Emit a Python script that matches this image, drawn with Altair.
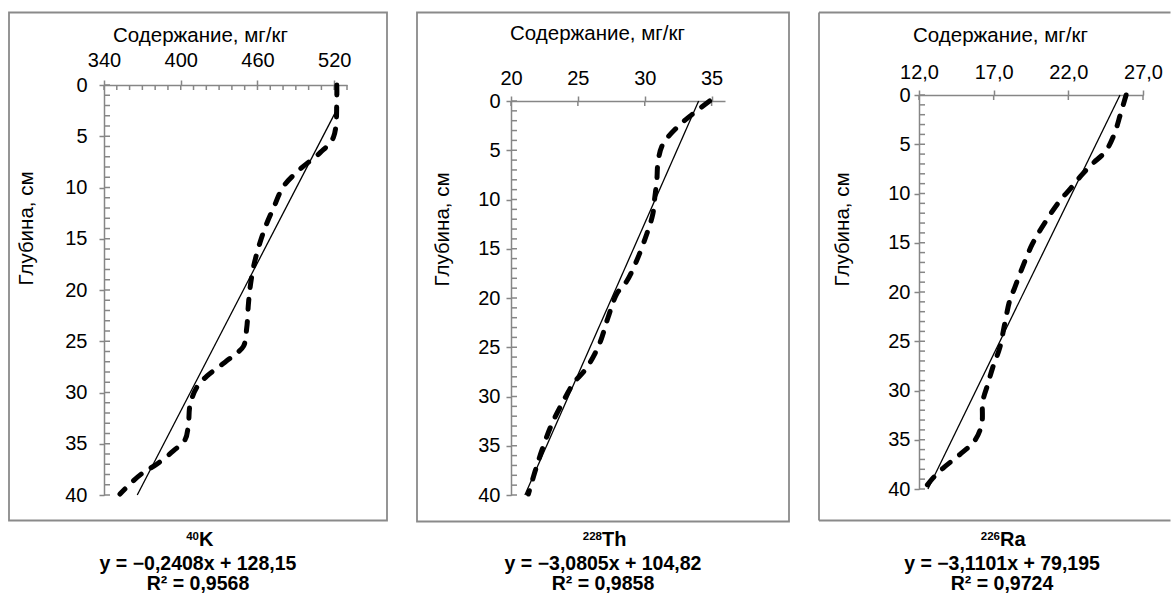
import altair as alt
import pandas as pd

FONT = "Liberation Sans"
GREY = "#868686"
FRAME = "#8a8a8a"

# ---------- data ----------
# 40K
k_depth = [0, 1.2, 5.1, 6.6, 8.2, 9.9, 12.0, 13.9, 15.9, 17.8, 19.8, 21.4, 23.7, 25.5, 26.4,
           27.4, 28.4, 29.5, 31.2, 33.1, 34.6, 35.7, 37.0, 37.8, 38.6, 39.9]
k_value = [522, 522, 519.4, 509, 493.4, 480.3, 472.5, 466, 460.7, 456.8, 454.2, 452.9, 451.6, 449, 441.2,
           430.8, 420.4, 412.5, 407.3, 406, 403.4, 394.2, 381.2, 370.8, 363, 352.5]
k_trend_value = [522, 366]
k_trend_depth = [2.4, 40]
k_xticks = [340, 400, 460, 520]
k_xminor = [340, 350, 360, 370, 380, 390, 400, 410, 420, 430, 440, 450, 460, 470, 480, 490, 500, 510, 520, 530]

# 228Th
th_depth = [0, 1.3, 2.7, 4.4, 6.1, 8.1, 9.8, 11.5, 13.5, 16.2, 18.3, 19.6, 22, 24.7, 27.1,
            28.7, 30.5, 32.8, 35.5, 37.6, 39.9]
th_value = [34.85, 33.6, 32.4, 31.35, 31.0, 30.9, 30.75, 30.6, 30.15, 29.4, 28.65, 27.9, 27.25, 26.6, 25.65,
            24.65, 23.9, 23.05, 22.3, 21.8, 21.3]
th_trend_value = [34.03, 21.04]
th_trend_depth = [0, 40]
th_xticks = [20, 25, 30, 35]

# 226Ra
ra_depth = [0, 1.9, 4, 5.7, 7, 8.1, 9.4, 10.8, 12.8, 15.1, 17.6, 19.6, 20.9, 23.3, 25.7, 27.7,
            29.4, 31.1, 33.4, 35.1, 36.5, 37.9, 38.9, 39.9]
ra_value = [25.87, 25.5, 25.07, 24.5, 23.6, 22.9, 22.2, 21.4, 20.5, 19.6, 18.9, 18.4, 18.07, 17.73, 17.4, 16.93,
            16.6, 16.27, 16.2, 15.73, 14.73, 13.6, 12.93, 12.4]
ra_trend_value = [25.46, 12.6]
ra_trend_depth = [0, 40]
ra_xticks = [12, 17, 22, 27]

depth_ticks = [0, 5, 10, 15, 20, 25, 30, 35, 40]
depth_minor = list(range(0, 41))

X_TITLE = "Содержание, мг/кг"
Y_TITLE = "Глубина, см"


def panel(vals, deps, tv, td, xdom, xw, y0, yh, xticks, xminor, label_expr,
          xlabpad, xtitle_x, xtitle_y, ylabpad, ytitle_x, ytitle_y,
          frame, open_right, cw, sup, elem, elem_x, eq, r2, eq_x):
    xs = alt.Scale(domain=xdom, range=[0, xw], nice=False, zero=False)
    ys = alt.Scale(domain=[0, 40], range=[y0, y0 + yh], nice=False, zero=False)
    common = dict(labelFont=FONT, labelFontSize=20, labelColor="black",
                  titleFont=FONT, titleFontSize=20.5, titleColor="black", titleFontWeight="normal",
                  tickSize=5, tickColor=GREY, tickWidth=1.5,
                  domainColor=GREY, domainWidth=1.5, grid=False,
                  labelFlush=False, labelOverlap=False)
    xax = alt.Axis(orient="top", values=xticks, labelExpr=label_expr,
                   labelBaseline="alphabetic", labelPadding=xlabpad,
                   title=X_TITLE, titleX=xtitle_x, titleY=xtitle_y, titleAlign="center",
                   titleBaseline="alphabetic", titleAngle=0, offset=-y0, **common)
    yax = alt.Axis(orient="left", values=depth_ticks, format="d", labelPadding=ylabpad,
                   labelBaseline="middle",
                   title=Y_TITLE, titleX=ytitle_x, titleY=ytitle_y, titleAngle=270,
                   titleAlign="center", titleBaseline="middle", **common)
    X = alt.X("v:Q", scale=xs, axis=xax)
    Y = alt.Y("d:Q", scale=ys, axis=yax)

    one = pd.DataFrame({"a": [0]})
    fx0, fx1, fy0, fy1 = frame
    if open_right:
        fstyle = dict(color=FRAME, strokeWidth=1.8)
        fr = alt.layer(
            alt.Chart(one).mark_rule(**fstyle).encode(
                x=alt.value(fx0), x2=alt.value(fx1), y=alt.value(fy0)),
            alt.Chart(one).mark_rule(**fstyle).encode(
                x=alt.value(fx0), x2=alt.value(fx1), y=alt.value(fy1)),
            alt.Chart(one).mark_rule(**fstyle).encode(
                x=alt.value(fx0), y=alt.value(fy0), y2=alt.value(fy1)),
        )
    else:
        fr = alt.Chart(one).mark_rect(fillOpacity=0, stroke=FRAME, strokeWidth=1.8).encode(
            x=alt.value(fx0), x2=alt.value(fx1), y=alt.value(fy0), y2=alt.value(fy1))
    ymin = alt.Chart(pd.DataFrame({"d": depth_minor})).mark_rule(color=GREY, strokeWidth=1.5).encode(
        y=Y, x=alt.value(0), x2=alt.value(6))
    xmin = alt.Chart(pd.DataFrame({"v": xminor})).mark_rule(color=GREY, strokeWidth=1.5).encode(
        x=X, y=alt.value(y0), y2=alt.value(y0 + 5))
    trend = alt.Chart(pd.DataFrame({"v": tv, "d": td})).mark_line(
        color="black", strokeWidth=1.3).encode(x=X, y=Y, order=alt.Order("d:Q"))
    curve = alt.Chart(pd.DataFrame({"v": vals, "d": deps})).mark_line(
        color="black", strokeWidth=5, strokeDash=[10, 12], strokeCap="round",
        interpolate="catmull-rom").encode(x=X, y=Y, order=alt.Order("d:Q"))

    tsup = alt.Chart(one).mark_text(font=FONT, fontSize=11.5, fontWeight="bold", align="right",
                                    baseline="alphabetic", color="black").encode(
        x=alt.value(elem_x), y=alt.value(455), text=alt.value(sup))
    telem = alt.Chart(one).mark_text(font=FONT, fontSize=20, fontWeight="bold", align="left",
                                     baseline="alphabetic", color="black").encode(
        x=alt.value(elem_x), y=alt.value(461), text=alt.value(elem))
    teq = alt.Chart(one).mark_text(font=FONT, fontSize=19.5, fontWeight="bold", align="center",
                                   baseline="alphabetic", color="black").encode(
        x=alt.value(eq_x), y=alt.value(485), text=alt.value(eq))
    tr2 = alt.Chart(one).mark_text(font=FONT, fontSize=19.5, fontWeight="bold", align="center",
                                   baseline="alphabetic", color="black").encode(
        x=alt.value(eq_x), y=alt.value(505), text=alt.value(r2))

    return alt.layer(fr, ymin, xmin, trend, curve, tsup, telem, teq, tr2).properties(
        width=cw, height=410)


p1 = panel(k_value, k_depth, k_trend_value, k_trend_depth, [340, 530], 243, 0, 410,
           k_xticks, k_xminor, "format(datum.value, 'd')",
           14, 96, -44, 12, -78, 143,
           (-95, 283, -72.5, 435.5), False, 407, "40", "K", 95,
           "y = −0,2408x + 128,15", "R² = 0,9568", 94)
p2 = panel(th_value, th_depth, th_trend_value, th_trend_depth, [20, 36], 214, 16, 394,
           th_xticks, th_xticks, "format(datum.value, 'd')",
           12, 86, -62, 6, -69, 144,
           (-94, 278, -72.5, 436.5), False, 408, "228", "Th", 91,
           "y = −3,0805x + 104,82", "R² = 0,9858", 92)
p3 = panel(ra_value, ra_depth, ra_trend_value, ra_trend_depth, [12, 27], 224, 10, 394,
           ra_xticks, ra_xticks, "replace(format(datum.value, '.1f'), '.', ',')",
           12, 81, -54, 4, -77, 144,
           (-100, 251.5, -72.5, 435.5), True, 253, "226", "Ra", 81,
           "y = −3,1101x + 79,195", "R² = 0,9724", 83)

chart = alt.hconcat(p1, p2, p3, spacing=0, bounds="flush").properties(
    padding={"left": 8, "top": 11, "right": 0, "bottom": 0},
).configure_view(stroke=None)

chart.save("out.html", embed_options={"renderer": "svg", "actions": False})
